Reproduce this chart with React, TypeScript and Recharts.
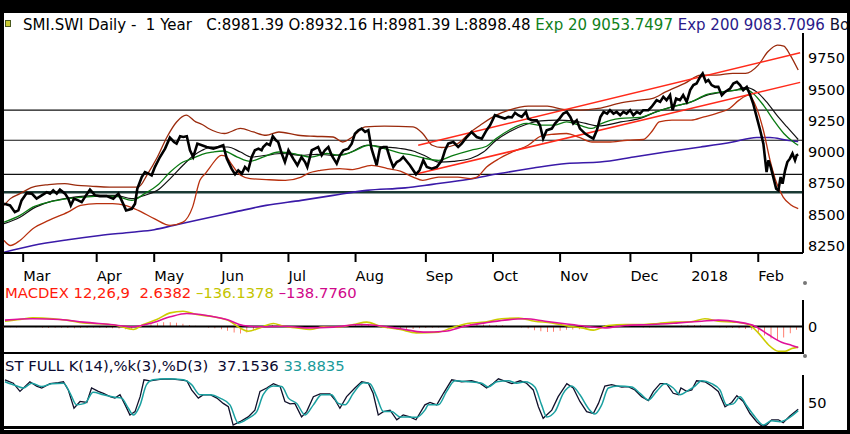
import { ComposedChart, Line, Bar, XAxis, YAxis, ReferenceLine } from "recharts"

const FONT = "'DejaVu Sans', Verdana, sans-serif"

// x = trading day index (0 = late Feb 2017), one year = 250 days
const monthDays = [6, 29, 47, 68, 89, 110, 132, 153, 174, 196, 215, 236]
const monthLabels = ["Mar", "Apr", "May", "Jun", "Jul", "Aug", "Sep", "Oct", "Nov", "Dec", "2018", "Feb"]
const priceTicks = [8250, 8500, 8750, 9000, 9250, 9500, 9750]
const thinLevels = [9334, 9094, 8822]
const thickLevel = 8678

type P = [number, number]

const closePts: P[] = [
  [0, 8587], [1.9, 8574], [3.4, 8520], [4.5, 8534], [5.5, 8614], [7.1, 8672], [8.7, 8668], [10.2, 8628],
  [11.8, 8654], [13.4, 8680], [14.4, 8668], [15.4, 8694], [16.5, 8668], [17.5, 8700], [19.1, 8668], [20.1, 8628],
  [20.9, 8574], [21.9, 8628], [23.2, 8614], [24.3, 8600], [25.3, 8640], [26.9, 8700], [28.5, 8654], [30, 8648],
  [32.1, 8648], [34.2, 8628], [35.8, 8668], [36.8, 8614], [38.2, 8534], [40, 8547], [41, 8587], [41.7, 8707],
  [43.1, 8800], [44.1, 8840], [45.2, 8827], [46.2, 8814], [47.2, 8880], [48.8, 8960], [50.4, 9027], [51.9, 9115],
  [53.2, 9080], [54, 9067], [55.1, 9126], [56.1, 9120], [57.2, 9126], [58.2, 9014], [59.2, 8960], [60.5, 9067],
  [61.9, 9054], [63.4, 9040], [65.5, 9027], [67.1, 9040], [68.6, 9054], [69.7, 8947], [71.2, 8867], [72.3, 8822],
  [73.3, 8854], [74.4, 8827], [75.4, 8880], [76.4, 8854], [77.5, 8960], [78.5, 9014], [79.6, 9027], [80.6, 9014],
  [81.1, 9040], [82.2, 9067], [83.2, 9054], [84.1, 9126], [85.1, 9094], [85.8, 9080], [86.9, 8988], [87.9, 8920],
  [89, 9014], [90.5, 8947], [91.8, 8894], [93.1, 8960], [94.2, 8920], [94.9, 8880], [96.3, 9014], [97.3, 9027],
  [98.3, 9040], [99.4, 8974], [100.4, 9014], [101.5, 9040], [102.5, 8974], [104.1, 8907], [105.1, 8974], [106.2, 9014],
  [107.7, 9027], [108.8, 9067], [109.8, 9147], [110.9, 9174], [111.9, 9187], [113, 9160], [114, 9174], [115, 9027],
  [116.6, 8894], [117.6, 9027], [118.7, 9040], [119.7, 9040], [120.8, 8947], [121.8, 8880], [122.9, 8920], [123.9, 8934],
  [124.9, 8960], [127, 8894], [128.9, 8822], [130, 8854], [131.2, 8934], [132.3, 8880], [133.8, 8867], [135.4, 8880],
  [137, 8934], [138, 9014], [139, 9067], [140.6, 9080], [142.1, 9040], [143.2, 9067], [144.8, 9120], [146.3, 9160],
  [147.9, 9120], [149.5, 9107], [151, 9174], [152.1, 9214], [153.6, 9294], [155.2, 9280], [156.7, 9267], [157.8, 9280],
  [158.9, 9276], [159.9, 9313], [160.9, 9294], [162, 9280], [163.3, 9320], [164, 9267], [165.1, 9254], [166.7, 9254],
  [167.7, 9214], [168.7, 9107], [169.8, 9174], [171.4, 9187], [172.4, 9227], [173.8, 9267], [175, 9307], [176.1, 9320],
  [177.2, 9280], [178.1, 9227], [179.2, 9254], [180.2, 9187], [181.8, 9147], [183.4, 9120], [184.4, 9107], [185.5, 9174],
  [186.6, 9280], [187.6, 9320], [188.7, 9307], [189.6, 9334], [190.7, 9307], [191.7, 9320], [192.8, 9294], [193.8, 9320],
  [194.8, 9307], [195.9, 9334], [196.9, 9294], [198, 9320], [199, 9307], [200, 9334], [201.6, 9334], [202.6, 9360],
  [204.2, 9414], [205.3, 9400], [206.3, 9440], [207.3, 9414], [208.4, 9454], [209.2, 9334], [210.3, 9427], [211.5, 9414],
  [212.5, 9454], [213.6, 9400], [214.7, 9494], [215.7, 9534], [216.7, 9547], [217.8, 9600], [218.6, 9627], [219.6, 9560],
  [220.4, 9574], [221.4, 9534], [222.5, 9520], [223.5, 9520], [224.6, 9454], [225.6, 9480], [227.2, 9507], [228.2, 9547],
  [229.3, 9560], [230.3, 9534], [231.3, 9494], [232.4, 9520], [233.5, 9454], [234.4, 9387], [235.5, 9280], [236.6, 9174],
  [237.6, 9067], [238.6, 8840], [239.2, 8934], [239.9, 8880], [240.7, 8800], [241.6, 8707], [242.3, 8694], [243, 8800],
  [243.6, 8747], [244.4, 8854], [245.1, 8920], [245.9, 8947], [246.7, 8988], [247.5, 8934], [248, 8974], [248.5, 8981],
]

const bbUpperPts: P[] = [
  [0, 8574], [2, 8628], [5, 8668], [9, 8720], [14, 8740], [19, 8748], [23, 8734], [27, 8728], [33, 8720], [38, 8720],
  [42, 8720], [45, 8828], [48, 8960], [51, 9120], [54, 9240], [57, 9294], [60, 9240], [62, 9220], [64, 9188], [69, 9148],
  [74, 9188], [78, 9160], [82, 9134], [86, 9160], [92, 9134], [97, 9126], [103, 9120], [106, 9080], [109, 9120], [113, 9200],
  [119, 9206], [128, 9200], [131, 9148], [134, 9054], [137, 9036], [142, 9068], [146, 9160], [149, 9214], [154, 9294],
  [158, 9334], [164, 9366], [170, 9366], [175, 9340], [180, 9334], [186, 9348], [193, 9392], [199, 9414], [203, 9428],
  [207, 9480], [213, 9548], [218, 9614], [223, 9614], [228, 9628], [232, 9628], [236, 9694], [239, 9800], [242, 9854],
  [244, 9846], [246, 9774], [248.5, 9654],
]

const bbLowerPts: P[] = [
  [0, 8294], [2, 8254], [5, 8294], [9, 8388], [14, 8454], [20, 8520], [24, 8574], [29, 8588], [34, 8588], [38, 8574],
  [42, 8534], [47, 8468], [52, 8414], [56, 8440], [59, 8560], [61.3, 8774], [63, 8828], [64.5, 8880], [68, 8974],
  [69.5, 8966], [71, 8910], [74, 8814], [77, 8788], [82, 8780], [88, 8774], [93, 8800], [95, 8828], [99, 8854],
  [105, 8868], [109, 8860], [115, 8894], [120, 8868], [124, 8848], [128, 8800], [131, 8774], [136, 8800], [142, 8800],
  [146, 8788], [148, 8800], [151, 8880], [155, 8948], [159, 9000], [164, 9054], [168, 9126], [172, 9142], [176, 9148],
  [180, 9116], [184, 9080], [189, 9080], [195, 9094], [200, 9100], [203, 9174], [205, 9240], [209, 9254], [215, 9254],
  [219, 9280], [223, 9308], [227, 9348], [230, 9414], [233, 9454], [235.5, 9350], [237.6, 9174], [239.7, 8934],
  [241.8, 8748], [243.8, 8640], [246, 8582], [248.5, 8548],
]

const bbMidPts: P[] = [
  [0, 8428], [5, 8480], [9, 8548], [14, 8600], [20, 8632], [25, 8648], [30, 8654], [35, 8654], [40, 8628], [44, 8654],
  [48, 8694], [52, 8788], [56, 8894], [59, 8966], [62, 9014], [65, 9040], [70, 9040], [74, 9000], [77.5, 8960], [82, 8974],
  [87, 8988], [93, 8974], [98, 8982], [103, 8974], [108, 8992], [113.5, 9054], [119, 9040], [124, 9028], [128, 9008],
  [132, 8966], [136, 8920], [140.6, 8926], [146, 8948], [150, 9000], [154, 9094], [158, 9160], [163.5, 9222], [168, 9248],
  [173, 9254], [178, 9248], [182, 9228], [186, 9208], [193, 9240], [199, 9268], [204, 9320], [209, 9360], [215, 9400],
  [220, 9454], [225, 9480], [229, 9494], [232, 9516], [235.5, 9480], [238.6, 9400], [241.8, 9294], [245, 9200],
  [248.5, 9100],
]

const ema20Pts: P[] = [
  [0, 8440], [5, 8494], [9, 8560], [14, 8600], [20, 8628], [25, 8640], [30, 8648], [35, 8646], [40, 8614], [44, 8668],
  [48, 8734], [52, 8840], [56, 8920], [59, 8948], [62, 8982], [65.5, 9000], [68.6, 9008], [73, 8960], [77, 8926], [81, 8960],
  [86, 9000], [91.6, 8982], [96, 8960], [101, 8988], [105, 8974], [110, 9014], [114, 9054], [119, 9028], [124, 8992],
  [128, 8974], [132, 8948], [136, 8934], [140.6, 8974], [146, 9014], [151, 9046], [154, 9108], [158, 9174], [163.5, 9228],
  [168, 9214], [172, 9214], [176, 9240], [180, 9214], [184, 9188], [186.5, 9222], [193, 9268], [199, 9276], [204, 9320],
  [209, 9360], [215, 9400], [220, 9460], [225, 9480], [229, 9494], [232, 9500], [234.4, 9468], [237.6, 9374],
  [240.8, 9254], [244, 9148], [247, 9080], [248.5, 9054],
]

const ema200Pts: P[] = [
  [0, 8200], [9, 8254], [20, 8300], [30, 8334], [40, 8360], [47, 8380], [53, 8414], [61, 8460], [72, 8520], [82, 8574],
  [93, 8614], [103, 8654], [113.5, 8694], [125.5, 8714], [134, 8742], [145, 8780], [155, 8828], [165.6, 8872], [176, 8908],
  [186.5, 8920], [197, 8960], [207, 9000], [218, 9040], [228, 9080], [235.5, 9116], [239.7, 9116], [245, 9094],
  [248.5, 9084],
]

const channelUpperPts: P[] = [[129.6, 9054], [249.1, 9792]]
const channelLowerPts: P[] = [[128.6, 8822], [249.1, 9556]]

const macdPts: P[] = [
  [0.3, 35], [5, 46], [9, 57], [15.4, 51], [19.6, 42], [24.8, 24], [30, 18], [35.3, 7], [40.5, -20], [43.6, 13],
  [47.8, 46], [52, 90], [56, 101], [60.3, 79], [65.5, 64], [70.7, 35], [73.8, -9], [76.4, -31], [80, -9], [84.3, 20],
  [87.4, 2], [91.6, -9], [95.7, -20], [100, -2], [104, -4], [109.3, 13], [113.5, 29], [117.6, 2], [124, -20], [129, -42],
  [136, -37], [140, -9], [145, 20], [150.5, 29], [155.7, 51], [161, 55], [166, 35], [171.4, 24], [176.6, 2], [180.8, -9],
  [184.4, -24], [189, 7], [194.3, 13], [199.5, 13], [204.7, 20], [210, 29], [215, 31], [219.3, 51], [223.5, 35],
  [228.7, 29], [232.9, 13], [236, -42], [239.1, -119], [242.3, -163], [244.4, -163], [246.5, -145], [248.5, -136],
]

const signalPts: P[] = [
  [0.3, 42], [9, 51], [17.5, 46], [24.8, 29], [33.2, 13], [40.5, -2], [45.7, 20], [52, 64], [57.2, 86], [63.4, 73],
  [69.7, 46], [74.9, 7], [80, -2], [87.4, 2], [94.7, -9], [103, -4], [111.4, 13], [116.6, 7], [124, -15], [131.2, -37],
  [138, -31], [144.2, 2], [150.5, 24], [156.7, 42], [163, 51], [169.3, 35], [175.5, 18], [181.8, 2], [188, -9], [194.3, 7],
  [202.7, 13], [211, 24], [218.3, 35], [223.5, 42], [229.8, 29], [235, 2], [239.1, -53], [243.3, -104], [246.5, -125],
  [248.5, -139],
]

const histPts: P[] = [
  [0, -6], [2, -5], [4, -6], [6, -4], [8, -3], [10, -5], [12, -8], [14, -10], [16, -8], [18, -9], [20, -10], [22, -12],
  [24, -10], [26, -8], [28, -6], [30, -8], [32, -10], [34, -12], [36, -14], [38, -18], [40, -20], [42, -10], [44, 5],
  [46, 15], [48, 22], [50, 28], [52, 28], [54, 24], [56, 18], [58, 10], [60, 5], [62, -4], [64, -8], [66, -12], [68, -18],
  [70, -28], [72, -40], [74, -46], [76, -40], [78, -25], [80, -8], [82, 6], [84, 10], [86, 4], [88, -4], [90, -8],
  [92, -10], [94, -10], [96, -8], [98, -4], [100, -3], [102, -4], [104, -2], [106, 4], [108, 10], [110, 16], [112, 20],
  [114, 14], [116, 2], [118, -8], [120, -12], [122, -14], [124, -16], [126, -18], [128, -16], [130, -12], [132, -10],
  [134, -8], [136, -6], [138, -2], [140, 4], [142, 10], [144, 14], [146, 18], [148, 16], [150, 14], [152, 12], [154, 10],
  [156, 8], [158, 4], [160, 0], [162, -6], [164, -14], [166, -24], [168, -32], [170, -37], [172, -34], [174, -28],
  [176, -22], [178, -20], [180, -18], [182, -16], [184, -10], [186, 2], [188, 8], [190, 6], [192, 4], [194, 2], [196, -2],
  [198, -4], [200, -6], [202, -6], [204, -5], [206, -4], [208, -2], [210, 2], [212, 6], [214, 8], [216, 10], [218, 8],
  [220, 4], [222, -2], [224, -6], [226, -8], [228, -10], [230, -12], [232, -16], [234, -22], [236, -38], [238, -60],
  [240, -80], [242, -90], [244, -72], [246, -45], [248, -22],
]

const stochKPts: P[] = [
  [0.3, 98], [2.9, 91], [5, 74], [8.1, 94], [10.2, 85], [11.8, 81], [14.4, 90], [17, 92], [18.6, 94], [20.1, 77],
  [21.9, 39], [23.8, 53], [25.9, 51], [27.4, 81], [29.5, 74], [31.1, 70], [33.2, 63], [34.7, 60], [36.3, 67], [37.9, 46],
  [39.4, 25], [41, 32], [42.6, 63], [43.8, 98], [45.7, 96], [48.8, 99], [52, 100], [55.1, 98], [57.2, 96], [58.7, 77],
  [60.8, 60], [62.4, 67], [64.5, 67], [66.6, 60], [68.6, 49], [70.2, 42], [71.7, 4], [73.8, 11], [76.4, 21], [78.5, 35],
  [80.1, 74], [82.2, 81], [84.3, 90], [86.4, 84], [87.9, 53], [89.5, 48], [91, 49], [93.1, 21], [94.7, 32], [96.8, 63],
  [98.9, 69], [102, 69], [103.6, 56], [105.1, 39], [107.2, 63], [109.8, 81], [111.9, 94], [114, 91], [115.5, 70],
  [117.1, 25], [118.7, 32], [120.8, 35], [122.9, 15], [124.9, 25], [127, 21], [128.9, 15], [131.7, 46], [133.3, 51],
  [135.4, 46], [137.5, 70], [140.1, 98], [143.2, 94], [146.3, 96], [148.9, 91], [151, 81], [153.1, 91], [154.7, 100],
  [157.3, 94], [158.9, 90], [161.5, 96], [163.5, 91], [165.6, 77], [167.2, 42], [168.7, 18], [171.4, 35], [173.4, 63],
  [176.1, 90], [178.1, 81], [180.2, 53], [182.3, 32], [184.4, 28], [186, 49], [188, 85], [190.1, 88], [193.3, 83],
  [195.3, 84], [197.4, 77], [199.5, 63], [201.6, 55], [203.2, 74], [205.3, 90], [207.3, 90], [209.4, 70], [211, 67],
  [211.8, 81], [213.6, 74], [215.2, 77], [216.7, 96], [219.3, 94], [221.4, 85], [223.5, 74], [225.6, 42], [227.7, 51],
  [229.3, 65], [231.3, 53], [233.4, 28], [235.5, 11], [237.1, 2], [238.6, 4], [240.2, 15], [242.3, 15], [243.8, 9],
  [245.9, 23], [248.5, 37],
]

const stochDPts: P[] = [
  [0.3, 94], [4, 85], [6, 81], [8.7, 91], [11.8, 84], [14.9, 90], [18.6, 91], [20.7, 70], [22.7, 46], [25.3, 49],
  [27.9, 72], [31.1, 67], [34.7, 62], [36.8, 60], [38.9, 39], [40.5, 25], [42.6, 46], [44.6, 88], [46.7, 98], [50.9, 100],
  [56.1, 98], [58.7, 88], [61.3, 67], [64.5, 67], [67.6, 60], [70.7, 46], [73.3, 8], [76.4, 18], [79.1, 32], [81.1, 67],
  [84.3, 85], [86.9, 84], [89, 60], [91.6, 49], [94.2, 25], [96.8, 46], [99.4, 67], [102.5, 67], [104.6, 49], [106.7, 46],
  [109.3, 70], [112.4, 92], [114.5, 90], [116.6, 63], [118.7, 32], [121.3, 32], [123.9, 21], [126.5, 21], [129.1, 20],
  [131.7, 35], [132.8, 46], [135.9, 46], [138.5, 74], [141.1, 96], [145.3, 94], [149.5, 91], [151.5, 83], [154.2, 94],
  [157.8, 96], [160.4, 91], [163, 94], [166.1, 83], [168.2, 46], [169.8, 21], [172.4, 32], [175, 70], [177.6, 85],
  [180.2, 67], [182.8, 39], [184.9, 27], [187, 46], [189.1, 81], [192.2, 85], [196.4, 83], [199, 70], [201.6, 56],
  [204.2, 74], [206.8, 90], [209.4, 81], [211.5, 67], [214.1, 76], [216.2, 85], [218.3, 96], [221.4, 90], [224, 77],
  [226.1, 46], [228.2, 48], [230.3, 63], [232.4, 44], [235, 21], [237.6, 4], [240.2, 13], [242.8, 11], [245.4, 18],
  [248.5, 34],
]

const rows = (pts: P[]) => pts.map(([d, v]) => ({ d, v }))

function MonthTick(props: any) {
  const { x, y, payload } = props
  const i = monthDays.indexOf(payload.value)
  return (
    <text x={x} y={y} dy={17} textAnchor="start" fill="#000" fontSize={14.5} fontFamily={FONT}>
      {monthLabels[i]}
    </text>
  )
}

const rightTick = { fill: "#000", fontSize: 14.5, fontFamily: FONT }
const axisStroke = { stroke: "#000", strokeWidth: 2 }
const titleStyle = { position: "absolute" as const, fontFamily: FONT, lineHeight: "16px", whiteSpace: "pre" as const }

export default function App() {
  const line = (key: string, pts: P[], color: string, width: number, smooth = false) => (
    <Line
      key={key}
      data={rows(pts)}
      dataKey="v"
      type={smooth ? "monotone" : "linear"}
      stroke={color}
      strokeWidth={width}
      dot={false}
      activeDot={false}
      isAnimationActive={false}
    />
  )

  return (
    <div style={{ position: "absolute", left: 0, top: 0, width: 850, height: 434, background: "#000", overflow: "hidden" }}>
      <div style={{ position: "absolute", left: 4, top: 13, width: 843, height: 417, background: "#fff" }} />

      {/* title (clipped at the right edge like the original) */}
      <div style={{ position: "absolute", left: 5, top: 20, width: 4, height: 5, background: "#c8c830", border: "1px solid #4a5a20" }} />
      <div style={{ ...titleStyle, left: 23, top: 16.5, width: 824, overflow: "hidden", fontSize: 15, color: "#000" }}>
        <span>SMI.SWI Daily -  1 Year   C:8981.39 O:8932.16 H:8981.39 L:8898.48 </span>
        <span style={{ color: "#10801a" }}>Exp 20 9053.7497 </span>
        <span style={{ color: "#2a1a8a" }}>Exp 200 9083.7096 </span>
        <span style={{ color: "#101030" }}>Bo</span>
      </div>

      <div style={{ position: "absolute", left: 0, top: 0 }}>
        <ComposedChart width={850} height={290} margin={{ top: 33, right: 7, bottom: 7, left: 4 }}>
          <XAxis
            type="number" dataKey="d" domain={[0, 250]} ticks={monthDays} interval={0} allowDataOverflow
            height={30} tickSize={9} tickMargin={2} tick={<MonthTick />}
            tickLine={axisStroke} axisLine={axisStroke}
          />
          <YAxis
            orientation="right" type="number" domain={[8194, 9950]} ticks={priceTicks} interval={0} allowDataOverflow
            width={40} tickLine={false} tickSize={3} tickMargin={2} tick={rightTick} axisLine={axisStroke}
          />
          {thinLevels.map((lv) => (
            <ReferenceLine key={lv} y={lv} stroke="#111" strokeWidth={1.2} />
          ))}
          <ReferenceLine y={thickLevel} stroke="#1a3a34" strokeWidth={2.5} />
          {line("ema200", ema200Pts, "#3a1aa8", 1.6, true)}
          {line("up", bbUpperPts, "#9a2a0c", 1.3, true)}
          {line("lo", bbLowerPts, "#b8300e", 1.3, true)}
          {line("mid", bbMidPts, "#111111", 1.2, true)}
          {line("ema20", ema20Pts, "#0a7a12", 1.3, true)}
          {line("chU", channelUpperPts, "#ff2a1a", 1.5)}
          {line("chL", channelLowerPts, "#ff2a1a", 1.5)}
          {line("close", closePts, "#000", 2.6)}
        </ComposedChart>
      </div>

      {/* MACD */}
      <div style={{ ...titleStyle, left: 5, top: 285, fontSize: 14.8 }}>
        <span style={{ color: "#ff1a0a" }}>MACDEX 12,26,9  2.6382 </span>
        <span style={{ color: "#c4c400" }}>–136.1378 </span>
        <span style={{ color: "#d0088a" }}>–138.7760</span>
      </div>
      <div style={{ position: "absolute", left: 0, top: 295 }}>
        <ComposedChart width={850} height={62} data={histPts.map(([d, h]) => ({ d, h }))} margin={{ top: 5, right: 7, bottom: 4, left: 4 }}>
          <XAxis type="number" dataKey="d" domain={[0, 250]} hide />
          <YAxis
            orientation="right" type="number" domain={[-175, 175]} ticks={[0]} interval={0} allowDataOverflow
            width={40} tickLine={false} tickSize={3} tickMargin={2} tick={rightTick} axisLine={axisStroke}
          />
          <ReferenceLine y={0} stroke="#000" strokeWidth={2} />
          <Bar dataKey="h" fill="#ff2008" barSize={2} isAnimationActive={false} />
          {line("macd", macdPts, "#cccc00", 1.6, true)}
          {line("signal", signalPts, "#e0109a", 1.6, true)}
        </ComposedChart>
      </div>
      <div style={{ position: "absolute", left: 4, top: 352, width: 800, height: 2, background: "#000" }} />

      {/* Stochastic */}
      <div style={{ ...titleStyle, left: 5, top: 357.5, fontSize: 14.8, color: "#0a0a30" }}>
        <span>ST FULL K(14),%k(3),%D(3)  37.1536 </span>
        <span style={{ color: "#1a9a9a" }}>33.8835</span>
      </div>
      <div style={{ position: "absolute", left: 0, top: 370 }}>
        <ComposedChart width={850} height={60} margin={{ top: 5, right: 7, bottom: 3, left: 4 }}>
          <XAxis type="number" dataKey="d" domain={[0, 250]} hide />
          <YAxis
            orientation="right" type="number" domain={[0, 108]} ticks={[50]} interval={0} allowDataOverflow
            width={40} tickLine={false} tickSize={3} tickMargin={2} tick={rightTick} axisLine={axisStroke}
          />
          {line("k", stochKPts, "#10102a", 1.3)}
          {line("dd", stochDPts, "#1aa0a0", 1.5, true)}
        </ComposedChart>
      </div>
      <div style={{ position: "absolute", left: 4, top: 425.5, width: 800, height: 3, background: "#000" }} />

      <div style={{ position: "absolute", left: 803, top: 281, width: 4, height: 4, borderRadius: 2, background: "#777" }} />
      <div style={{ position: "absolute", left: 803, top: 354, width: 4, height: 4, borderRadius: 2, background: "#777" }} />
    </div>
  )
}
